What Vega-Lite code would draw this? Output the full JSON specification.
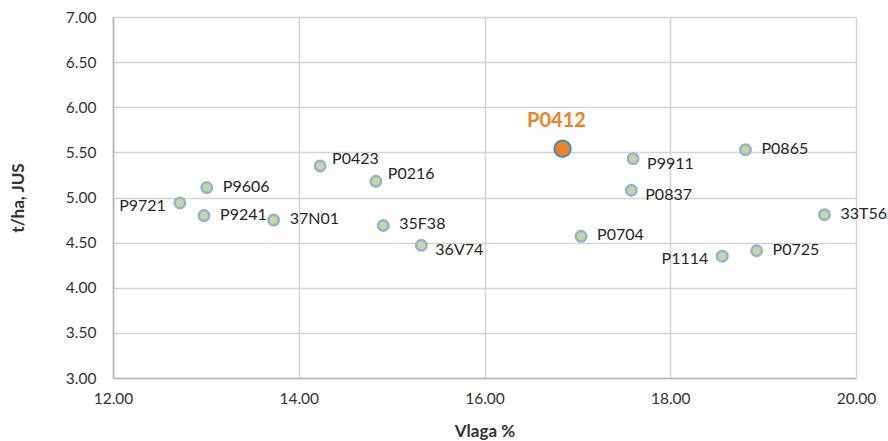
{
  "$schema": "https://vega.github.io/schema/vega-lite/v6.json",
  "autosize": "none",
  "padding": {"left": 113, "top": 17, "right": 32, "bottom": 63},
  "width": 743,
  "height": 361,
  "background": "white",
  "config": {
    "view": {"stroke": null},
    "font": "Lato",
    "axis": {
      "labelFont": "Lato",
      "titleFont": "Lato",
      "labelFontSize": 15.5,
      "labelColor": "#333333",
      "titleFontSize": 17,
      "titleFontWeight": "bold",
      "titleColor": "#333333",
      "gridColor": "#d4d4d4",
      "gridWidth": 1.5,
      "domainColor": "#b5b5b5",
      "domainWidth": 1.5,
      "ticks": false,
      "labelFlush": false
    }
  },
  "data": {
    "values": [
      {"name": "P9721", "vlaga": 12.72, "jus": 4.94},
      {"name": "P9606", "vlaga": 13.01, "jus": 5.11},
      {"name": "P9241", "vlaga": 12.98, "jus": 4.80},
      {"name": "37N01", "vlaga": 13.73, "jus": 4.75},
      {"name": "P0423", "vlaga": 14.23, "jus": 5.35},
      {"name": "P0216", "vlaga": 14.83, "jus": 5.18},
      {"name": "35F38", "vlaga": 14.91, "jus": 4.69},
      {"name": "36V74", "vlaga": 15.32, "jus": 4.47},
      {"name": "P0412", "vlaga": 16.84, "jus": 5.54},
      {"name": "P9911", "vlaga": 17.60, "jus": 5.43},
      {"name": "P0865", "vlaga": 18.81, "jus": 5.53},
      {"name": "P0837", "vlaga": 17.58, "jus": 5.08},
      {"name": "33T56", "vlaga": 19.66, "jus": 4.81},
      {"name": "P0704", "vlaga": 17.04, "jus": 4.57},
      {"name": "P1114", "vlaga": 18.56, "jus": 4.35},
      {"name": "P0725", "vlaga": 18.93, "jus": 4.41}
    ]
  },
  "encoding": {
    "x": {
      "field": "vlaga", "type": "quantitative",
      "scale": {"domain": [12, 20], "nice": false, "zero": false},
      "axis": {"values": [12, 14, 16, 18, 20], "format": ".2f", "title": "Vlaga %", "labelPadding": 13, "titlePadding": 17}
    },
    "y": {
      "field": "jus", "type": "quantitative",
      "scale": {"domain": [3, 7], "nice": false, "zero": false},
      "axis": {"values": [3, 3.5, 4, 4.5, 5, 5.5, 6, 6.5, 7], "format": ".2f", "title": "t/ha, JUS", "labelPadding": 17, "titlePadding": 38}
    }
  },
  "layer": [
    {
      "transform": [{"filter": "datum.name != 'P0412'"}],
      "mark": {"type": "point", "filled": true, "shape": "circle", "size": 110, "fill": "#c4d79c", "stroke": "#8fb4d6", "strokeWidth": 2.5, "opacity": 1}
    },
    {
      "transform": [{"filter": "datum.name == 'P0412'"}],
      "mark": {"type": "point", "filled": true, "shape": "circle", "size": 270, "fill": "#f28025", "stroke": "#3b8fc8", "strokeWidth": 2, "opacity": 1}
    },
    {
      "transform": [{"filter": "indexof(['P9606','P9241','37N01','35F38','33T56','P0865','P0704','P0725'], datum.name) >= 0"}],
      "mark": {"type": "text", "align": "left", "baseline": "middle", "dx": 16, "dy": -1, "fontSize": 16, "font": "Lato", "color": "#262626"},
      "encoding": {"text": {"field": "name"}}
    },
    {
      "transform": [{"filter": "indexof(['P0423','P0216'], datum.name) >= 0"}],
      "mark": {"type": "text", "align": "left", "baseline": "middle", "dx": 12, "dy": -7, "fontSize": 16, "font": "Lato", "color": "#262626"},
      "encoding": {"text": {"field": "name"}}
    },
    {
      "transform": [{"filter": "indexof(['P9911','P0837','36V74'], datum.name) >= 0"}],
      "mark": {"type": "text", "align": "left", "baseline": "middle", "dx": 14, "dy": 5, "fontSize": 16, "font": "Lato", "color": "#262626"},
      "encoding": {"text": {"field": "name"}}
    },
    {
      "transform": [{"filter": "indexof(['P9721','P1114'], datum.name) >= 0"}],
      "mark": {"type": "text", "align": "right", "baseline": "middle", "dx": -14, "dy": 3, "fontSize": 16, "font": "Lato", "color": "#262626"},
      "encoding": {"text": {"field": "name"}}
    },
    {
      "transform": [{"filter": "datum.name == 'P0412'"}],
      "mark": {"type": "text", "align": "center", "baseline": "middle", "dx": -6, "dy": -28, "fontSize": 20, "fontWeight": "bold", "font": "Lato", "color": "#f28025"},
      "encoding": {"text": {"field": "name"}}
    }
  ]
}
